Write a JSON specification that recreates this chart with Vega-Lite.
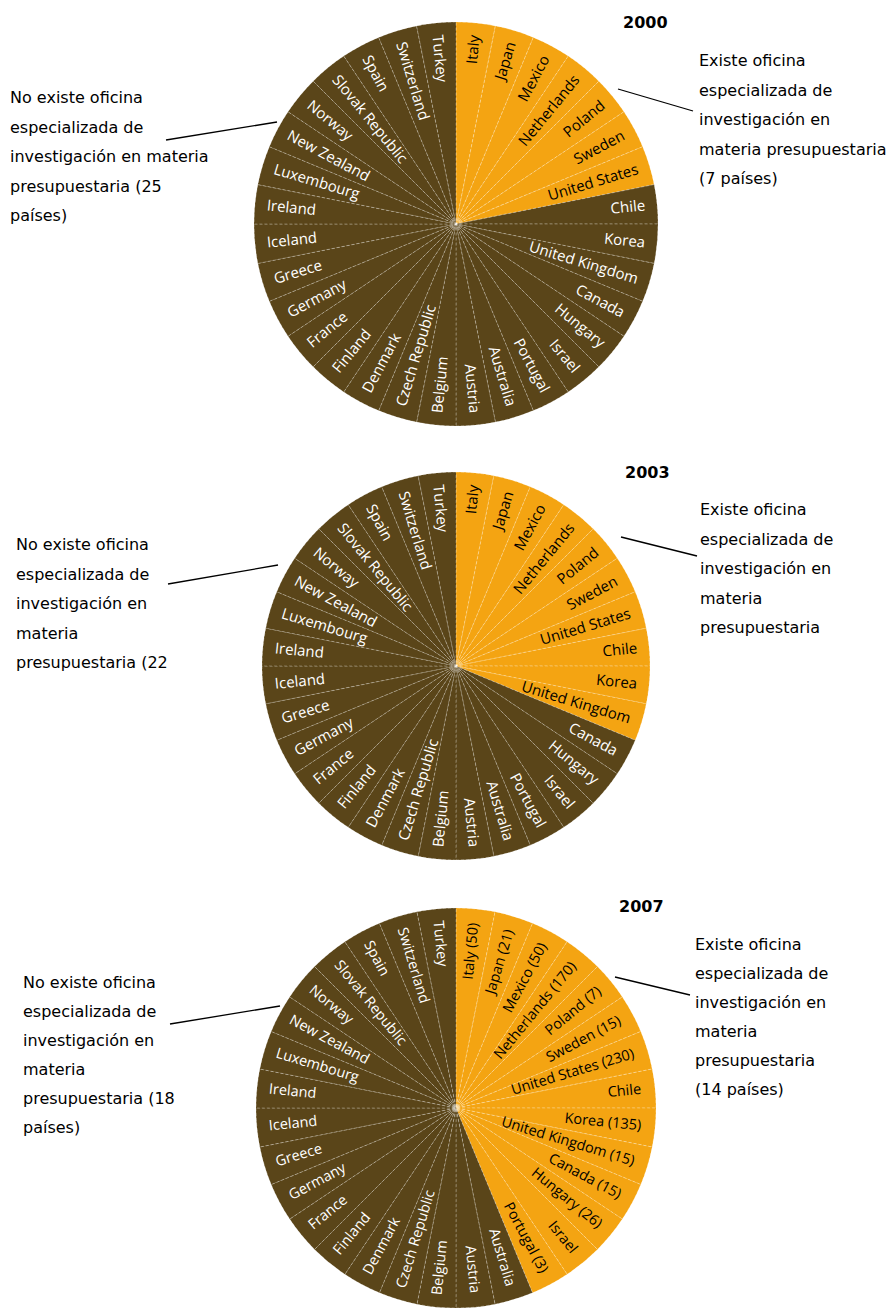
{
"$schema": "https://vega.github.io/schema/vega-lite/v6.json",
"padding": {"left": 10, "top": 15, "right": 0, "bottom": 0},
"background": "white",
"config": {"view": {"stroke": null}},
"datasets": {
"d2000": [
{"i":0,"label":"Italy","s":"Existe","v":1},{"i":1,"label":"Japan","s":"Existe","v":1},{"i":2,"label":"Mexico","s":"Existe","v":1},{"i":3,"label":"Netherlands","s":"Existe","v":1},{"i":4,"label":"Poland","s":"Existe","v":1},{"i":5,"label":"Sweden","s":"Existe","v":1},{"i":6,"label":"United States","s":"Existe","v":1},{"i":7,"label":"Chile","s":"No existe","v":1},{"i":8,"label":"Korea","s":"No existe","v":1},{"i":9,"label":"United Kingdom","s":"No existe","v":1},{"i":10,"label":"Canada","s":"No existe","v":1},{"i":11,"label":"Hungary","s":"No existe","v":1},{"i":12,"label":"Israel","s":"No existe","v":1},{"i":13,"label":"Portugal","s":"No existe","v":1},{"i":14,"label":"Australia","s":"No existe","v":1},{"i":15,"label":"Austria","s":"No existe","v":1},{"i":16,"label":"Belgium","s":"No existe","v":1},{"i":17,"label":"Czech Republic","s":"No existe","v":1},{"i":18,"label":"Denmark","s":"No existe","v":1},{"i":19,"label":"Finland","s":"No existe","v":1},{"i":20,"label":"France","s":"No existe","v":1},{"i":21,"label":"Germany","s":"No existe","v":1},{"i":22,"label":"Greece","s":"No existe","v":1},{"i":23,"label":"Iceland","s":"No existe","v":1},{"i":24,"label":"Ireland","s":"No existe","v":1},{"i":25,"label":"Luxembourg","s":"No existe","v":1},{"i":26,"label":"New Zealand","s":"No existe","v":1},{"i":27,"label":"Norway","s":"No existe","v":1},{"i":28,"label":"Slovak Republic","s":"No existe","v":1},{"i":29,"label":"Spain","s":"No existe","v":1},{"i":30,"label":"Switzerland","s":"No existe","v":1},{"i":31,"label":"Turkey","s":"No existe","v":1}
],
"d2003": [
{"i":0,"label":"Italy","s":"Existe","v":1},{"i":1,"label":"Japan","s":"Existe","v":1},{"i":2,"label":"Mexico","s":"Existe","v":1},{"i":3,"label":"Netherlands","s":"Existe","v":1},{"i":4,"label":"Poland","s":"Existe","v":1},{"i":5,"label":"Sweden","s":"Existe","v":1},{"i":6,"label":"United States","s":"Existe","v":1},{"i":7,"label":"Chile","s":"Existe","v":1},{"i":8,"label":"Korea","s":"Existe","v":1},{"i":9,"label":"United Kingdom","s":"Existe","v":1},{"i":10,"label":"Canada","s":"No existe","v":1},{"i":11,"label":"Hungary","s":"No existe","v":1},{"i":12,"label":"Israel","s":"No existe","v":1},{"i":13,"label":"Portugal","s":"No existe","v":1},{"i":14,"label":"Australia","s":"No existe","v":1},{"i":15,"label":"Austria","s":"No existe","v":1},{"i":16,"label":"Belgium","s":"No existe","v":1},{"i":17,"label":"Czech Republic","s":"No existe","v":1},{"i":18,"label":"Denmark","s":"No existe","v":1},{"i":19,"label":"Finland","s":"No existe","v":1},{"i":20,"label":"France","s":"No existe","v":1},{"i":21,"label":"Germany","s":"No existe","v":1},{"i":22,"label":"Greece","s":"No existe","v":1},{"i":23,"label":"Iceland","s":"No existe","v":1},{"i":24,"label":"Ireland","s":"No existe","v":1},{"i":25,"label":"Luxembourg","s":"No existe","v":1},{"i":26,"label":"New Zealand","s":"No existe","v":1},{"i":27,"label":"Norway","s":"No existe","v":1},{"i":28,"label":"Slovak Republic","s":"No existe","v":1},{"i":29,"label":"Spain","s":"No existe","v":1},{"i":30,"label":"Switzerland","s":"No existe","v":1},{"i":31,"label":"Turkey","s":"No existe","v":1}
],
"d2007": [
{"i":0,"label":"Italy (50)","s":"Existe","v":1},{"i":1,"label":"Japan (21)","s":"Existe","v":1},{"i":2,"label":"Mexico (50)","s":"Existe","v":1},{"i":3,"label":"Netherlands (170)","s":"Existe","v":1},{"i":4,"label":"Poland (7)","s":"Existe","v":1},{"i":5,"label":"Sweden (15)","s":"Existe","v":1},{"i":6,"label":"United States (230)","s":"Existe","v":1},{"i":7,"label":"Chile","s":"Existe","v":1},{"i":8,"label":"Korea (135)","s":"Existe","v":1},{"i":9,"label":"United Kingdom (15)","s":"Existe","v":1},{"i":10,"label":"Canada (15)","s":"Existe","v":1},{"i":11,"label":"Hungary (26)","s":"Existe","v":1},{"i":12,"label":"Israel","s":"Existe","v":1},{"i":13,"label":"Portugal (3)","s":"Existe","v":1},{"i":14,"label":"Australia","s":"No existe","v":1},{"i":15,"label":"Austria","s":"No existe","v":1},{"i":16,"label":"Belgium","s":"No existe","v":1},{"i":17,"label":"Czech Republic","s":"No existe","v":1},{"i":18,"label":"Denmark","s":"No existe","v":1},{"i":19,"label":"Finland","s":"No existe","v":1},{"i":20,"label":"France","s":"No existe","v":1},{"i":21,"label":"Germany","s":"No existe","v":1},{"i":22,"label":"Greece","s":"No existe","v":1},{"i":23,"label":"Iceland","s":"No existe","v":1},{"i":24,"label":"Ireland","s":"No existe","v":1},{"i":25,"label":"Luxembourg","s":"No existe","v":1},{"i":26,"label":"New Zealand","s":"No existe","v":1},{"i":27,"label":"Norway","s":"No existe","v":1},{"i":28,"label":"Slovak Republic","s":"No existe","v":1},{"i":29,"label":"Spain","s":"No existe","v":1},{"i":30,"label":"Switzerland","s":"No existe","v":1},{"i":31,"label":"Turkey","s":"No existe","v":1}
]
},
"spacing": 42,
"bounds": "flush",
"vconcat": [
{
"width": 866, "height": 400,
"resolve": {"scale": {"theta": "independent", "angle": "independent"}},
"layer": [
{"data": {"name": "d2000"},
 "mark": {"type": "arc", "outerRadius": 202, "stroke": "#ffffff", "strokeOpacity": 0.35, "strokeWidth": 0.8, "strokeDash": [3, 2]},
 "encoding": {
  "theta": {"field": "v", "type": "quantitative", "stack": true},
  "order": {"field": "i", "type": "quantitative"},
  "color": {"field": "s", "type": "nominal", "scale": {"domain": ["Existe", "No existe"], "range": ["#F4A412", "#5A4519"]}, "legend": null}
 }},
{"data": {"name": "d2000"},
 "transform": [{"filter": "datum.i < 16"}],
 "mark": {"type": "text", "radius": 190, "align": "right", "baseline": "middle", "font": "Open Sans", "fontSize": 15},
 "encoding": {
  "theta": {"field": "i", "type": "quantitative", "stack": null, "scale": {"domain": [-0.5, 31.5], "nice": false, "zero": false}},
  "angle": {"field": "i", "type": "quantitative", "scale": {"domain": [-0.5, 31.5], "range": [-90, 270], "nice": false, "zero": false}},
  "text": {"field": "label", "type": "nominal"},
  "color": {"condition": {"test": "datum.s === 'Existe'", "value": "#000000"}, "value": "#ffffff"}
 }},
{"data": {"name": "d2000"},
 "transform": [{"filter": "datum.i >= 16"}],
 "mark": {"type": "text", "radius": 190, "align": "left", "baseline": "middle", "font": "Open Sans", "fontSize": 15},
 "encoding": {
  "theta": {"field": "i", "type": "quantitative", "stack": null, "scale": {"domain": [-0.5, 31.5], "nice": false, "zero": false}},
  "angle": {"field": "i", "type": "quantitative", "scale": {"domain": [-0.5, 31.5], "range": [-270, 90], "nice": false, "zero": false}},
  "text": {"field": "label", "type": "nominal"},
  "color": {"condition": {"test": "datum.s === 'Existe'", "value": "#000000"}, "value": "#ffffff"}
 }},
{"data": {"values": [
  {"x": -13, "y": 79, "t": "No existe oficina\nespecializada de\ninvestigación en materia\npresupuestaria (25\npaíses)"},
  {"x": 676, "y": 42, "t": "Existe oficina\nespecializada de\ninvestigación en\nmateria presupuestaria\n(7 países)"}
 ]},
 "mark": {"type": "text", "align": "left", "baseline": "alphabetic", "font": "DejaVu Sans", "fontSize": 16, "lineBreak": "\n", "lineHeight": 29.5, "color": "#000000"},
 "encoding": {
  "x": {"field": "x", "type": "quantitative", "scale": {"domain": [0, 866], "nice": false, "zero": false}, "axis": null},
  "y": {"field": "y", "type": "quantitative", "scale": {"domain": [400, 0], "nice": false, "zero": false}, "axis": null},
  "text": {"field": "t", "type": "nominal"}
 }},
{"data": {"values": [
  {"x": 143, "y": 116, "x2": 254, "y2": 98},
  {"x": 595, "y": 65, "x2": 670, "y2": 87}
 ]},
 "mark": {"type": "rule", "color": "#000000", "strokeWidth": 1.3},
 "encoding": {
  "x": {"field": "x", "type": "quantitative"},
  "y": {"field": "y", "type": "quantitative"},
  "x2": {"field": "x2"},
  "y2": {"field": "y2"}
 }},
{"data": {"values": [{"x": 600, "y": 4, "t": "2000"}]},
 "mark": {"type": "text", "align": "left", "baseline": "alphabetic", "font": "DejaVu Sans", "fontSize": 16, "fontWeight": "bold", "color": "#000000"},
 "encoding": {
  "x": {"field": "x", "type": "quantitative"},
  "y": {"field": "y", "type": "quantitative"},
  "text": {"field": "t", "type": "nominal"}
 }}
]
},
{
"width": 866, "height": 400,
"resolve": {"scale": {"theta": "independent", "angle": "independent"}},
"layer": [
{"data": {"name": "d2003"},
 "mark": {"type": "arc", "outerRadius": 194, "stroke": "#ffffff", "strokeOpacity": 0.35, "strokeWidth": 0.8, "strokeDash": [3, 2]},
 "encoding": {
  "theta": {"field": "v", "type": "quantitative", "stack": true},
  "order": {"field": "i", "type": "quantitative"},
  "color": {"field": "s", "type": "nominal", "scale": {"domain": ["Existe", "No existe"], "range": ["#F4A412", "#5A4519"]}, "legend": null}
 }},
{"data": {"name": "d2003"},
 "transform": [{"filter": "datum.i < 16"}],
 "mark": {"type": "text", "radius": 182, "align": "right", "baseline": "middle", "font": "Open Sans", "fontSize": 15},
 "encoding": {
  "theta": {"field": "i", "type": "quantitative", "stack": null, "scale": {"domain": [-0.5, 31.5], "nice": false, "zero": false}},
  "angle": {"field": "i", "type": "quantitative", "scale": {"domain": [-0.5, 31.5], "range": [-90, 270], "nice": false, "zero": false}},
  "text": {"field": "label", "type": "nominal"},
  "color": {"condition": {"test": "datum.s === 'Existe'", "value": "#000000"}, "value": "#ffffff"}
 }},
{"data": {"name": "d2003"},
 "transform": [{"filter": "datum.i >= 16"}],
 "mark": {"type": "text", "radius": 182, "align": "left", "baseline": "middle", "font": "Open Sans", "fontSize": 15},
 "encoding": {
  "theta": {"field": "i", "type": "quantitative", "stack": null, "scale": {"domain": [-0.5, 31.5], "nice": false, "zero": false}},
  "angle": {"field": "i", "type": "quantitative", "scale": {"domain": [-0.5, 31.5], "range": [-270, 90], "nice": false, "zero": false}},
  "text": {"field": "label", "type": "nominal"},
  "color": {"condition": {"test": "datum.s === 'Existe'", "value": "#000000"}, "value": "#ffffff"}
 }},
{"data": {"values": [
  {"x": -7, "y": 84, "t": "No existe oficina\nespecializada de\ninvestigación en\nmateria\npresupuestaria  (22"},
  {"x": 677, "y": 49, "t": "Existe oficina\nespecializada de\ninvestigación en\nmateria\npresupuestaria"}
 ]},
 "mark": {"type": "text", "align": "left", "baseline": "alphabetic", "font": "DejaVu Sans", "fontSize": 16, "lineBreak": "\n", "lineHeight": 29.5, "color": "#000000"},
 "encoding": {
  "x": {"field": "x", "type": "quantitative", "scale": {"domain": [0, 866], "nice": false, "zero": false}, "axis": null},
  "y": {"field": "y", "type": "quantitative", "scale": {"domain": [400, 0], "nice": false, "zero": false}, "axis": null},
  "text": {"field": "t", "type": "nominal"}
 }},
{"data": {"values": [
  {"x": 145, "y": 118, "x2": 255, "y2": 99},
  {"x": 598, "y": 71, "x2": 674, "y2": 90}
 ]},
 "mark": {"type": "rule", "color": "#000000", "strokeWidth": 1.3},
 "encoding": {
  "x": {"field": "x", "type": "quantitative"},
  "y": {"field": "y", "type": "quantitative"},
  "x2": {"field": "x2"},
  "y2": {"field": "y2"}
 }},
{"data": {"values": [{"x": 602, "y": 12, "t": "2003"}]},
 "mark": {"type": "text", "align": "left", "baseline": "alphabetic", "font": "DejaVu Sans", "fontSize": 16, "fontWeight": "bold", "color": "#000000"},
 "encoding": {
  "x": {"field": "x", "type": "quantitative"},
  "y": {"field": "y", "type": "quantitative"},
  "text": {"field": "t", "type": "nominal"}
 }}
]
},
{
"width": 866, "height": 400,
"resolve": {"scale": {"theta": "independent", "angle": "independent"}},
"layer": [
{"data": {"name": "d2007"},
 "mark": {"type": "arc", "outerRadius": 200, "stroke": "#ffffff", "strokeOpacity": 0.35, "strokeWidth": 0.8, "strokeDash": [3, 2]},
 "encoding": {
  "theta": {"field": "v", "type": "quantitative", "stack": true},
  "order": {"field": "i", "type": "quantitative"},
  "color": {"field": "s", "type": "nominal", "scale": {"domain": ["Existe", "No existe"], "range": ["#F4A412", "#5A4519"]}, "legend": null}
 }},
{"data": {"name": "d2007"},
 "transform": [{"filter": "datum.i < 16"}],
 "mark": {"type": "text", "radius": 186, "align": "right", "baseline": "middle", "font": "Open Sans", "fontSize": 14.5},
 "encoding": {
  "theta": {"field": "i", "type": "quantitative", "stack": null, "scale": {"domain": [-0.5, 31.5], "nice": false, "zero": false}},
  "angle": {"field": "i", "type": "quantitative", "scale": {"domain": [-0.5, 31.5], "range": [-90, 270], "nice": false, "zero": false}},
  "text": {"field": "label", "type": "nominal"},
  "color": {"condition": {"test": "datum.s === 'Existe'", "value": "#000000"}, "value": "#ffffff"}
 }},
{"data": {"name": "d2007"},
 "transform": [{"filter": "datum.i >= 16"}],
 "mark": {"type": "text", "radius": 188, "align": "left", "baseline": "middle", "font": "Open Sans", "fontSize": 14.5},
 "encoding": {
  "theta": {"field": "i", "type": "quantitative", "stack": null, "scale": {"domain": [-0.5, 31.5], "nice": false, "zero": false}},
  "angle": {"field": "i", "type": "quantitative", "scale": {"domain": [-0.5, 31.5], "range": [-270, 90], "nice": false, "zero": false}},
  "text": {"field": "label", "type": "nominal"},
  "color": {"condition": {"test": "datum.s === 'Existe'", "value": "#000000"}, "value": "#ffffff"}
 }},
{"data": {"values": [
  {"x": 0, "y": 80, "t": "No existe oficina\nespecializada de\ninvestigación en\nmateria\npresupuestaria (18\npaíses)"},
  {"x": 672, "y": 42, "t": "Existe oficina\nespecializada de\ninvestigación en\nmateria\npresupuestaria\n(14 países)"}
 ]},
 "mark": {"type": "text", "align": "left", "baseline": "alphabetic", "font": "DejaVu Sans", "fontSize": 16, "lineBreak": "\n", "lineHeight": 29, "color": "#000000"},
 "encoding": {
  "x": {"field": "x", "type": "quantitative", "scale": {"domain": [0, 866], "nice": false, "zero": false}, "axis": null},
  "y": {"field": "y", "type": "quantitative", "scale": {"domain": [400, 0], "nice": false, "zero": false}, "axis": null},
  "text": {"field": "t", "type": "nominal"}
 }},
{"data": {"values": [
  {"x": 147, "y": 116, "x2": 257, "y2": 98},
  {"x": 592, "y": 69, "x2": 667, "y2": 87}
 ]},
 "mark": {"type": "rule", "color": "#000000", "strokeWidth": 1.3},
 "encoding": {
  "x": {"field": "x", "type": "quantitative"},
  "y": {"field": "y", "type": "quantitative"},
  "x2": {"field": "x2"},
  "y2": {"field": "y2"}
 }},
{"data": {"values": [{"x": 596, "y": 4, "t": "2007"}]},
 "mark": {"type": "text", "align": "left", "baseline": "alphabetic", "font": "DejaVu Sans", "fontSize": 16, "fontWeight": "bold", "color": "#000000"},
 "encoding": {
  "x": {"field": "x", "type": "quantitative"},
  "y": {"field": "y", "type": "quantitative"},
  "text": {"field": "t", "type": "nominal"}
 }}
]
}
]
}
